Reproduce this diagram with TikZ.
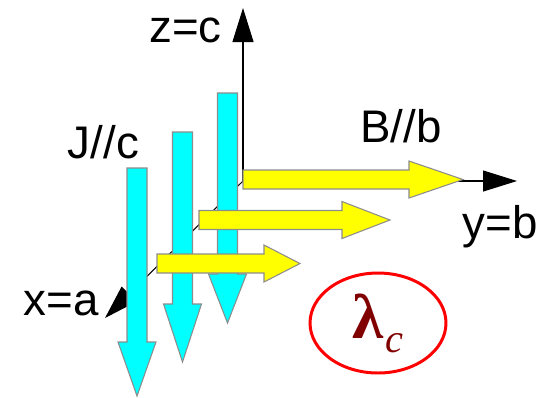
\documentclass[tikz,border=0pt]{standalone}
\usepackage{fontspec}
\setmainfont{Liberation Sans}
\newfontfamily\lamfont{Liberation Serif}
\usetikzlibrary{arrows.meta,shapes.geometric}
\definecolor{jcyan}{RGB}{0,255,255}
\definecolor{byellow}{RGB}{255,255,0}
\definecolor{edgegray}{RGB}{140,140,140}
\definecolor{lamred}{RGB}{128,0,0}

\begin{document}
\begin{tikzpicture}[
    x=0.02cm, y=-0.02cm,
    axisline/.style={black, line width=0.6pt, -{Triangle[length=0.68cm, width=0.42cm]}},
    axislabel/.style={font=\fontsize{26}{30}\selectfont, inner sep=0pt, anchor=base},
    jarrow/.style={fill=jcyan, draw=edgegray, line width=0.6pt},
    barrow/.style={fill=byellow, draw=edgegray, line width=0.6pt},
]
    \useasboundingbox (0,0) rectangle (543,397);

    % axes
    \coordinate (O) at (243,181);
    \coordinate (ztip) at (243,8);
    \coordinate (ytip) at (517,181);
    \coordinate (xtip) at (105,318);
    \draw[axisline] (O) -- (ztip);
    \draw[axisline] (O) -- (ytip);
    \draw[axisline] (O) -- (xtip);

    % current J, pointing down
    \foreach \xc/\ytop/\ybase/\ytip in {137/168/342/396, 182.5/132/304/362, 227.5/93/274/323}{
        \draw[jarrow] (\xc-10,\ytop) -- (\xc+10,\ytop) -- (\xc+10,\ybase) -- (\xc+19,\ybase)
            -- (\xc,\ytip) -- (\xc-19,\ybase) -- (\xc-10,\ybase) -- cycle;
    }

    % field B, pointing right
    \foreach \xs/\yc/\xbase/\xtip in {243/179.5/409/463, 199/220/342/390, 157/263.5/264/300}{
        \draw[barrow] (\xs,\yc-9.5) -- (\xbase,\yc-9.5) -- (\xbase,\yc-18.5) -- (\xtip,\yc)
            -- (\xbase,\yc+18.5) -- (\xbase,\yc+9.5) -- (\xs,\yc+9.5) -- cycle;
    }

    \node[axislabel] (zlabel) at (185.5,42) {z=c};
    \node[axislabel] (ylabel) at (500,238) {y=b};
    \node[axislabel] (xlabel) at (61,315) {x=a};
    \node[axislabel] (jlabel) at (103.5,158) {J//c};
    \node[axislabel] (blabel) at (401,142) {B//b};

    \node[ellipse, draw=red, line width=1.7pt, minimum width=2.72cm, minimum height=2cm,
        text=lamred, inner sep=0pt] (lam) at (378,323)
        {\lamfont\fontsize{36}{40}\selectfont\bfseries λ\kern1pt\raisebox{-8pt}{\fontsize{23}{26}\selectfont\mdseries\itshape c}};
\end{tikzpicture}
\end{document}
